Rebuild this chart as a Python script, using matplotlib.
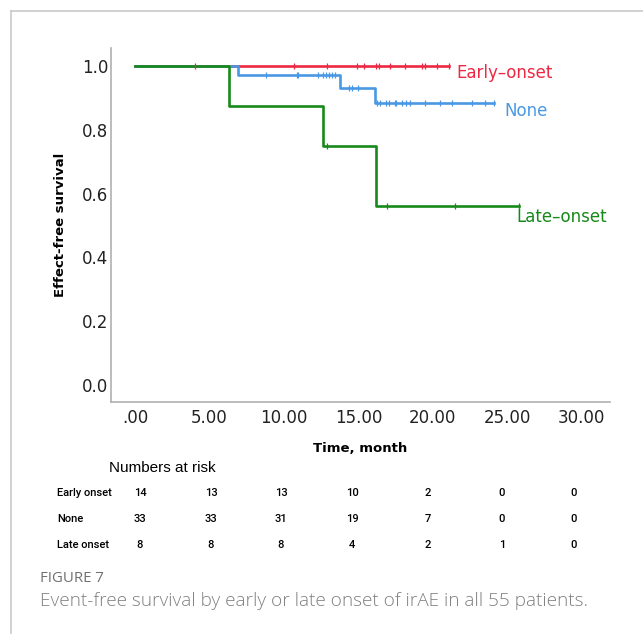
import matplotlib
matplotlib.use("Agg")
import matplotlib.pyplot as plt
from matplotlib.lines import Line2D

# Kaplan-Meier steps (time in months, survival)
early_steps_t = [0.0]
early_steps_s = [1.0]
early_end = 21.1
early_cens_t = [4.0, 10.7, 12.9, 14.9, 15.4, 16.2, 16.4, 17.1, 18.1, 19.3, 19.5, 20.3, 21.1]

none_steps_t = [0.0, 6.9, 13.8, 16.1]
none_steps_s = [1.0, 0.970, 0.931, 0.884]
none_end = 24.1
none_cens_t = [8.8, 10.85, 10.95, 12.3, 12.6, 12.8, 13.0, 13.2, 13.4,
               14.4, 14.6, 15.0,
               16.26, 16.44, 16.85, 17.07, 17.45, 17.56, 17.96, 18.2, 18.5,
               19.5, 20.5, 21.3, 22.6, 23.5, 24.1]

late_steps_t = [0.0, 6.3, 12.6, 16.2]
late_steps_s = [1.0, 0.875, 0.75, 0.5625]
late_end = 25.8
late_cens_t = [12.9, 16.9, 21.5, 25.8]

x_ticks = [0, 5, 10, 15, 20, 25, 30]
x_ticklabels = [".00", "5.00", "10.00", "15.00", "20.00", "25.00", "30.00"]
y_ticks = [0.0, 0.2, 0.4, 0.6, 0.8, 1.0]

risk_groups = ["Early onset", "None", "Late onset"]
risk_early = [14, 13, 13, 10, 2, 0, 0]
risk_none = [33, 33, 31, 19, 7, 0, 0]
risk_late = [8, 8, 8, 4, 2, 1, 0]

RED = "#EC2842"
BLUE = "#4A98E4"
GREEN = "#17891A"

W, H = 643, 634


def fx(px):
    return px / W


def fy(py):
    return 1 - py / H


def surv_at(t, steps_t, steps_s):
    s = steps_s[0]
    for st, sv in zip(steps_t, steps_s):
        if t >= st:
            s = sv
    return s


def draw_km(ax, steps_t, steps_s, end, cens, color):
    xs = list(steps_t) + [end]
    ys = list(steps_s) + [steps_s[-1]]
    ax.step(xs, ys, where="post", color=color, lw=1.9, zorder=3)
    cy = [surv_at(t, steps_t, steps_s) for t in cens]
    ax.plot(cens, cy, ls="none", marker="|", ms=5, mew=0.9, color=color, zorder=4)


fig = plt.figure(figsize=(W / 100, H / 100), dpi=100)

# card border (top + left)
fig.add_artist(Line2D([fx(11), 1.0], [fy(11), fy(11)], color="#c9c9c9", lw=1.2))
fig.add_artist(Line2D([fx(11), fx(11)], [0, fy(11)], color="#c9c9c9", lw=1.2))

ax = fig.add_axes([fx(111), fy(402), fx(610 - 111), (402 - 48) / H])

draw_km(ax, early_steps_t, early_steps_s, early_end, early_cens_t, RED)
draw_km(ax, none_steps_t, none_steps_s, none_end, none_cens_t, BLUE)
draw_km(ax, late_steps_t, late_steps_s, late_end, late_cens_t, GREEN)

ax.set_xlim(-1.61, 31.9)
ax.set_ylim(-0.053, 1.056)
ax.set_xticks(x_ticks)
ax.set_xticklabels(x_ticklabels)
ax.set_yticks(y_ticks)
ax.set_yticklabels([f"{v:.1f}" for v in y_ticks])
ax.tick_params(length=0, labelsize=12, colors="#222222")
ax.tick_params(axis="x", pad=5)
ax.tick_params(axis="y", pad=2)
for side in ["top", "right"]:
    ax.spines[side].set_visible(False)
for side in ["left", "bottom"]:
    ax.spines[side].set_color("#b0b0b0")
    ax.spines[side].set_linewidth(1.2)

ax.set_xlabel("Time, month", fontsize=9.5, fontweight="bold", labelpad=10.5)
ax.set_ylabel("Effect-free survival", fontsize=9.5, fontweight="bold", labelpad=11)

ax.text(21.6, 0.978, "Early\u2013onset", color=RED, fontsize=12, va="center", ha="left")
ax.text(24.8, 0.858, "None", color=BLUE, fontsize=12, va="center", ha="left")
ax.text(25.6, 0.525, "Late\u2013onset", color=GREEN, fontsize=12, va="center", ha="left")

# numbers at risk table
fig.text(fx(109), fy(468), "Numbers at risk", fontsize=11, family="Liberation Sans",
         va="center", ha="left")
col_x = [140, 211, 281, 352, 428, 502, 574]
row_y = [493, 519, 545]
for name, counts, yy in zip(risk_groups, [risk_early, risk_none, risk_late], row_y):
    fig.text(fx(57), fy(yy), name, fontsize=8, family="Roboto", fontweight="medium",
             va="center", ha="left")
    for cx, c in zip(col_x, counts):
        fig.text(fx(cx), fy(yy), str(c), fontsize=8, family="Roboto",
                 fontweight="medium", va="center", ha="center")

fig.text(fx(40), fy(578), "FIGURE 7", fontsize=10.8, family="Open Sans",
         color="#707070", va="center", ha="left")
fig.text(fx(40), fy(601), "Event-free survival by early or late onset of irAE in all 55 patients.",
         fontsize=13.7, family="Open Sans", fontweight="light", color="#808080",
         va="center", ha="left")

fig.savefig("out.png", dpi=100)
